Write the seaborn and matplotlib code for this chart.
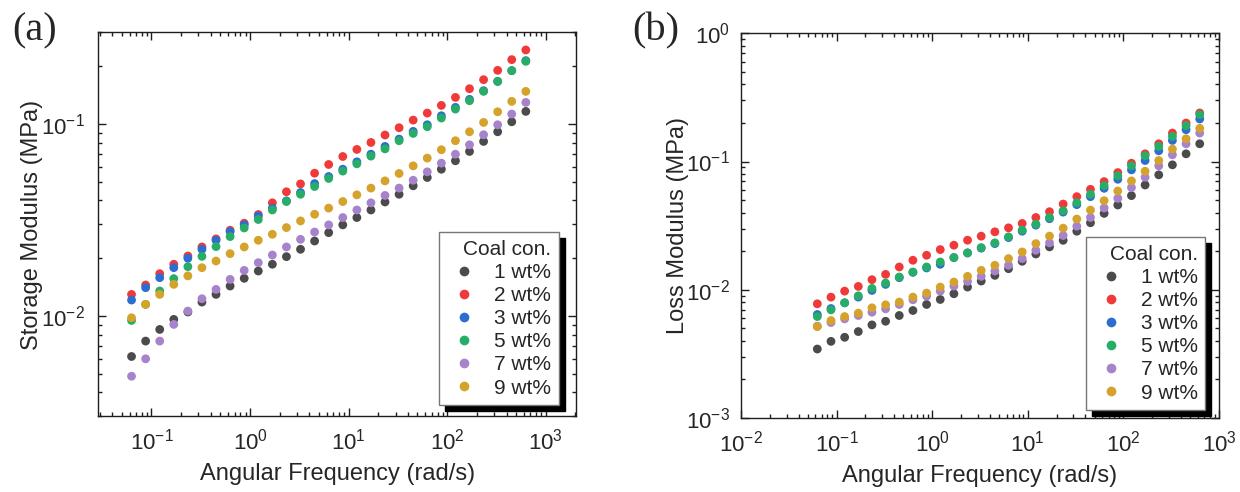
import numpy as np
import pandas as pd
import matplotlib
matplotlib.use("Agg")
import matplotlib.pyplot as plt
import seaborn as sns
from matplotlib.lines import Line2D
from matplotlib.ticker import LogLocator, NullFormatter

# ---------------- data ----------------
freq = [0.0628, 0.0873, 0.1213, 0.1685, 0.2341, 0.3253, 0.452, 0.628, 0.873,
        1.213, 1.685, 2.341, 3.253, 4.52, 6.28, 8.73, 12.13, 16.85, 23.41,
        32.53, 45.2, 62.8, 87.3, 121.3, 168.5, 234.1, 325.3, 452.0, 628.0]

conc_labels = ["1 wt%", "2 wt%", "3 wt%", "5 wt%", "7 wt%", "9 wt%"]
conc_colors = ["#4b4b4b", "#f03a3a", "#2d6dd0", "#27ad68", "#a783cc", "#d5a22c"]

# Storage modulus (MPa)
storage_1 = [0.00616, 0.00741, 0.00852, 0.00961, 0.0105, 0.01183, 0.01297, 0.01434, 0.01573, 0.01717,
             0.01862, 0.0204, 0.02228, 0.0246, 0.0272, 0.02985, 0.0326, 0.0357, 0.0393, 0.0431,
             0.0477, 0.0527, 0.0582, 0.0644, 0.0720, 0.0812, 0.0912, 0.1028, 0.1164]
storage_2 = [0.01297, 0.01452, 0.01663, 0.01862, 0.02056, 0.02291, 0.02523, 0.0280, 0.03044, 0.0338,
             0.0389, 0.0444, 0.0488, 0.0555, 0.0616, 0.0678, 0.0738, 0.0802, 0.0877, 0.0957,
             0.1049, 0.1141, 0.1251, 0.1377, 0.1528, 0.1703, 0.1905, 0.2166, 0.2432]
storage_3 = [0.01212, 0.01406, 0.01585, 0.01787, 0.0200, 0.02228, 0.02483, 0.02754, 0.02985, 0.0332,
             0.0365, 0.0398, 0.0440, 0.0490, 0.0533, 0.0582, 0.0636, 0.0697, 0.0765, 0.0835,
             0.0916, 0.0992, 0.1105, 0.1222, 0.1345, 0.1493, 0.1669, 0.1898, 0.2140]
storage_5 = [0.00949, 0.01151, 0.01351, 0.01567, 0.01809, 0.02047, 0.0230, 0.02594, 0.02877, 0.03184,
             0.0357, 0.0395, 0.0431, 0.0473, 0.0521, 0.0569, 0.0621, 0.0681, 0.0743, 0.0819,
             0.0894, 0.0969, 0.1075, 0.1197, 0.1323, 0.1480, 0.1669, 0.1898, 0.2123]
storage_7 = [0.00486, 0.00599, 0.00741, 0.00905, 0.01062, 0.01231, 0.01377, 0.01553, 0.0173, 0.01898,
             0.0208, 0.02291, 0.0251, 0.0274, 0.02985, 0.0326, 0.0357, 0.0389, 0.0425, 0.0464,
             0.0510, 0.0564, 0.0626, 0.0697, 0.0780, 0.0880, 0.0992, 0.1128, 0.1297]
storage_9 = [0.0098, 0.01151, 0.01297, 0.01463, 0.0162, 0.01787, 0.01936, 0.02114, 0.02291, 0.02483,
             0.02667, 0.0289, 0.0313, 0.0339, 0.0365, 0.0395, 0.0428, 0.0464, 0.0506, 0.0553,
             0.0606, 0.0665, 0.0735, 0.0819, 0.0912, 0.1020, 0.1159, 0.1313, 0.1480]

# Loss modulus (MPa)
loss_1 = [0.00345, 0.00396, 0.00426, 0.00472, 0.00532, 0.00568, 0.0063, 0.00689, 0.00768, 0.0084,
          0.00931, 0.0105, 0.01169, 0.01295, 0.0146, 0.01667, 0.0190, 0.0216, 0.0243, 0.0286,
          0.0333, 0.0394, 0.0458, 0.0542, 0.0656, 0.0787, 0.0942, 0.1148, 0.1375]
loss_2 = [0.00777, 0.00876, 0.00976, 0.01062, 0.01198, 0.01318, 0.01505, 0.01698, 0.01858, 0.02057,
          0.02225, 0.02434, 0.02617, 0.0283, 0.0304, 0.0329, 0.0366, 0.0406, 0.0466, 0.0532,
          0.0607, 0.0697, 0.0820, 0.0970, 0.1148, 0.1375, 0.1667, 0.1995, 0.2391]
loss_3 = [0.00641, 0.00714, 0.00791, 0.00876, 0.00988, 0.01101, 0.01242, 0.01367, 0.01479, 0.01579,
          0.01782, 0.01937, 0.0211, 0.0229, 0.0255, 0.0286, 0.0319, 0.0358, 0.0403, 0.0461,
          0.0532, 0.0618, 0.0727, 0.0861, 0.1018, 0.1212, 0.1460, 0.1770, 0.2146]
loss_5 = [0.00618, 0.00697, 0.00791, 0.00897, 0.01024, 0.01128, 0.01257, 0.01375, 0.01505, 0.01647,
          0.01782, 0.01937, 0.02133, 0.0232, 0.02585, 0.0292, 0.0325, 0.0366, 0.0413, 0.0477,
          0.0555, 0.0649, 0.0773, 0.0925, 0.1108, 0.1311, 0.1570, 0.1902, 0.2320]
loss_7 = [0.0052, 0.00555, 0.00593, 0.0063, 0.00668, 0.0071, 0.00768, 0.00835, 0.00892, 0.00976,
          0.01069, 0.01162, 0.01272, 0.0140, 0.01551, 0.0175, 0.02032, 0.0232, 0.0265, 0.0313,
          0.0366, 0.0434, 0.0516, 0.0626, 0.0754, 0.0925, 0.1128, 0.1375, 0.1667]
loss_9 = [0.00516, 0.00575, 0.00618, 0.00657, 0.00723, 0.00763, 0.00801, 0.00876, 0.00942, 0.0105,
          0.01148, 0.01272, 0.01417, 0.01551, 0.0175, 0.01972, 0.0229, 0.0262, 0.0302, 0.0356,
          0.0418, 0.0495, 0.0589, 0.0706, 0.0840, 0.1018, 0.1249, 0.1504, 0.1814]

storage_series = [storage_1, storage_2, storage_3, storage_5, storage_7, storage_9]
loss_series = [loss_1, loss_2, loss_3, loss_5, loss_7, loss_9]


def long_frame(series_list):
    parts = []
    for lab, vals in zip(conc_labels, series_list):
        parts.append(pd.DataFrame({"freq": freq, "mod": vals, "conc": lab}))
    return pd.concat(parts, ignore_index=True)


df_storage = long_frame(storage_series)
df_loss = long_frame(loss_series)

# ---------------- style ----------------
sns.set_style("ticks")
plt.rcParams["font.family"] = ["Liberation Sans", "DejaVu Sans"]
plt.rcParams["axes.unicode_minus"] = False
plt.rcParams["mathtext.fontset"] = "custom"
plt.rcParams["mathtext.rm"] = "Liberation Sans"

TICK_FS = 16
LABEL_FS = 17
LEG_FS = 15
SPINE_C = "#1e1e1e"

fig = plt.figure(figsize=(12.4, 4.92), dpi=100)
ax1 = fig.add_axes([0.0794, 0.1535, 0.3855, 0.7805])
ax2 = fig.add_axes([0.5976, 0.1504, 0.3855, 0.7820])

for ax, df in ((ax1, df_storage), (ax2, df_loss)):
    sns.scatterplot(data=df, x="freq", y="mod", hue="conc", hue_order=conc_labels,
                    palette=conc_colors, s=40, linewidth=0, legend=False, ax=ax, zorder=3)


def style(ax, xlim, ylim, xlabel, ylabel, ypad, ylabpad):
    ax.set_xscale("log")
    ax.set_yscale("log")
    ax.set_xlim(*xlim)
    ax.set_ylim(*ylim)
    ax.xaxis.set_minor_formatter(NullFormatter())
    ax.yaxis.set_minor_formatter(NullFormatter())
    for sp in ax.spines.values():
        sp.set_color(SPINE_C)
        sp.set_linewidth(1.0)
    ax.tick_params(axis="x", which="both", top=True, bottom=True, direction="in",
                   color=SPINE_C, width=1.0)
    ax.tick_params(axis="y", which="both", left=True, right=True, direction="in",
                   color=SPINE_C, width=1.0)
    ax.tick_params(axis="both", which="major", length=6, labelsize=TICK_FS)
    ax.tick_params(axis="both", which="minor", length=3.2)
    ax.tick_params(axis="x", which="major", pad=9)
    ax.tick_params(axis="y", which="major", pad=ypad)
    ax.set_xlabel(xlabel, fontsize=LABEL_FS, labelpad=6)
    ax.set_ylabel(ylabel, fontsize=LABEL_FS, labelpad=ylabpad)


style(ax1, (0.029, 2050), (0.003, 0.3), "Angular Frequency (rad/s)",
      "Storage Modulus (MPa)", 10, -2)
style(ax2, (0.01, 1000), (0.001, 1.0), "Angular Frequency (rad/s)",
      "Loss Modulus (MPa)", 8, -2)

handles = [Line2D([], [], marker="o", ls="", color=c, markersize=7, markeredgewidth=0)
           for c in conc_colors]
for ax, anchor in ((ax1, (0.963, 0.030)), (ax2, (0.971, 0.021))):
    leg = ax.legend(handles, conc_labels, title="Coal con.", loc="lower right",
                    bbox_to_anchor=anchor, borderaxespad=0, fontsize=LEG_FS,
                    title_fontsize=LEG_FS, frameon=True, fancybox=False,
                    edgecolor="#7d7570", framealpha=1,
                    shadow={"ox": 4.3, "oy": -4.3, "facecolor": "black",
                            "edgecolor": "black", "alpha": 1},
                    handlelength=1.7, handletextpad=0.6, labelspacing=0.2,
                    borderpad=0.35, alignment="right")
    leg.get_frame().set_linewidth(1.0)
    leg.set_zorder(10)

fig.text(0.0097, 0.975, "(a)", fontsize=29, va="top", ha="left",
         family=["Liberation Serif", "DejaVu Serif"])
fig.text(0.5097, 0.975, "(b)", fontsize=29, va="top", ha="left",
         family=["Liberation Serif", "DejaVu Serif"])

fig.savefig("out.png", dpi=100)
